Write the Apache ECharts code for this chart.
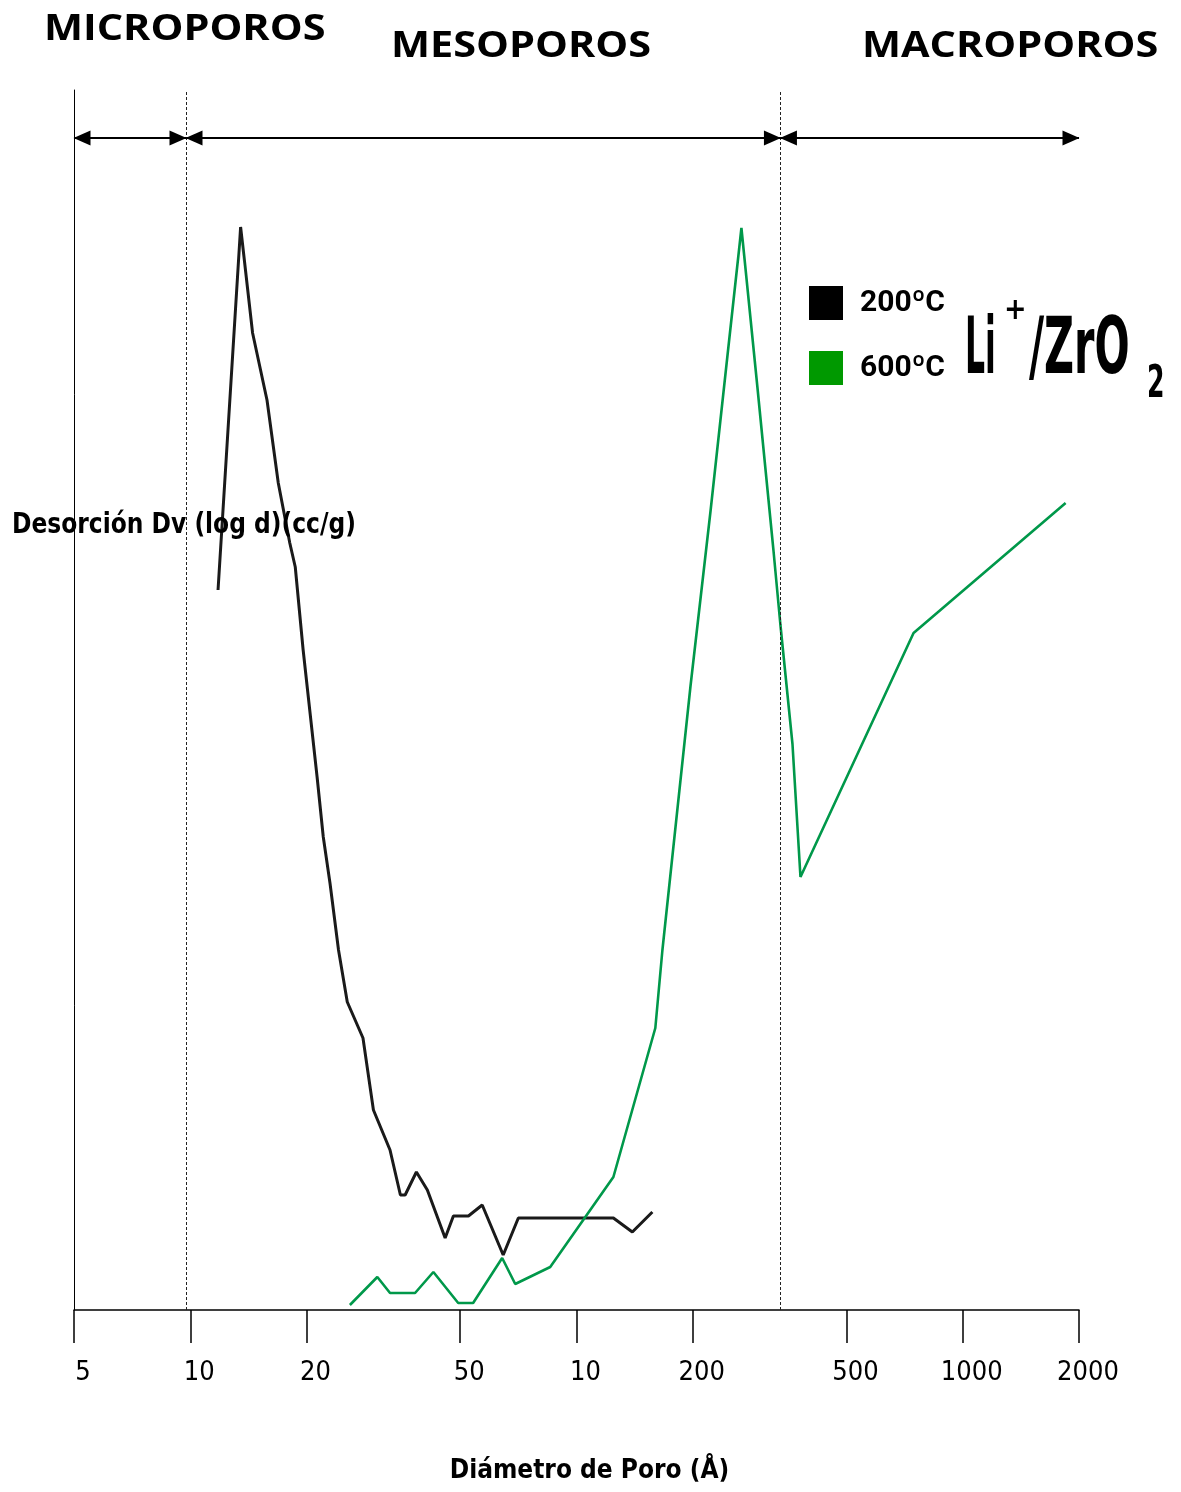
<!DOCTYPE html>
<html>
<head>
<meta charset="utf-8">
<script src="https://cdn.jsdelivr.net/npm/echarts@6/dist/echarts.min.js"></script>
<style>
html,body{margin:0;padding:0;background:#fff;}
#chart{width:1181px;height:1492px;}
</style>
</head>
<body>
<div id="chart"></div>
<script>
// Pore diameter (Å) and desorption Dv(log d) (cc/g)
const diam200 = [11.8, 13.5, 14.5, 15.8, 16.9, 18.1, 18.7, 19.6, 21.3, 22.1, 23.0, 24.2, 25.5, 28.0, 29.8, 32.9, 35.0, 36.0, 38.5, 41.1, 45.7, 48.0, 52.5, 57.0, 64.6, 70.7, 124.6, 139.5, 157.2];
const dv200 = [0.720, 1.083, 0.977, 0.910, 0.827, 0.767, 0.743, 0.660, 0.533, 0.473, 0.427, 0.360, 0.308, 0.272, 0.200, 0.160, 0.115, 0.115, 0.138, 0.120, 0.072, 0.094, 0.094, 0.105, 0.055, 0.092, 0.092, 0.078, 0.098];
const diam600 = [25.9, 30.5, 32.9, 38.2, 42.6, 49.4, 54.0, 64.2, 69.4, 85.5, 124.6, 160.0, 166.9, 197.2, 222.2, 245.9, 267.3, 294.0, 323.5, 337.3, 362.4, 380.1, 745.9, 1846.6];
const dv600 = [0.005, 0.033, 0.017, 0.017, 0.038, 0.007, 0.007, 0.052, 0.026, 0.043, 0.133, 0.282, 0.360, 0.623, 0.798, 0.954, 1.082, 0.923, 0.760, 0.685, 0.566, 0.433, 0.677, 0.807];
const seriesNames = ['200ºC', '600ºC'];
const tickValues = [5, 10, 20, 50, 100, 200, 500, 1000, 2000];
const tickLabels = ['5', '10', '20', '50', '10', '200', '500', '1000', '2000'];
const regionBounds = [5, 9.75, 337.3, 2000];   // micro / meso / macro limits (Å)
const regionNames = ['MICROPOROS', 'MESOPOROS', 'MACROPOROS'];
const arrowLevel = 1.172;

const COND = '"DejaVu Sans Condensed", "DejaVu Sans", sans-serif';

function labelFor(v) {
  let best = 0, bd = Infinity;
  tickValues.forEach((t, i) => { const d = Math.abs(Math.log(v) - Math.log(t)); if (d < bd) { bd = d; best = i; } });
  return bd < 0.01 ? tickLabels[best] : '';
}

const chart = echarts.init(document.getElementById('chart'), null, {renderer: 'canvas'});
const arrowLines = [];
for (let i = 0; i < regionBounds.length - 1; i++) {
  arrowLines.push([{coord: [regionBounds[i], arrowLevel]}, {coord: [regionBounds[i + 1], arrowLevel]}]);
}
const option = {
  backgroundColor: '#fff',
  animation: false,
  grid: {left: 74, right: 102, top: 90, bottom: 182, containLabel: false, outerBoundsMode: 'none'},
  xAxis: {
    type: 'log', logBase: 10, min: 5, max: 2000,
    name: 'Diámetro de Poro (Å)', nameLocation: 'middle', nameGap: 148,
    nameTextStyle: {fontFamily: COND, fontWeight: 'bold', fontSize: 26, color: '#000', padding: [0, 0, 0, 26]},
    axisLine: {show: true, lineStyle: {color: '#000', width: 1.5}},
    axisTick: {show: true, length: 33, lineStyle: {color: '#000', width: 1.5}, customValues: tickValues},
    axisLabel: {customValues: tickValues, formatter: v => labelFor(v), margin: 49,
      fontFamily: COND, fontSize: 27, color: '#000', padding: [0, 0, 0, 18]},
    splitLine: {show: false}, minorTick: {show: false}, minorSplitLine: {show: false}
  },
  yAxis: {
    type: 'value', min: 0, max: 1.22,
    axisLine: {show: true, lineStyle: {color: '#000', width: 1}},
    axisTick: {show: false}, axisLabel: {show: false}, splitLine: {show: false}
  },
  legend: {
    orient: 'vertical', left: 809, top: 286, padding: 0,
    itemWidth: 34, itemHeight: 34, itemGap: 31, icon: 'rect',
    textStyle: {fontFamily: 'Roboto', fontWeight: 'bold', fontSize: 30, color: '#000', lineHeight: 34, padding: [0, 0, 0, 12]},
    data: [
      {name: seriesNames[0], itemStyle: {color: '#000', borderWidth: 0}},
      {name: seriesNames[1], itemStyle: {color: '#009900', borderWidth: 0}}
    ]
  },
  series: [
    {
      name: seriesNames[0], type: 'line', showSymbol: false, symbol: 'none',
      lineStyle: {color: '#1a1a1a', width: 3}, itemStyle: {color: '#000'},
      data: diam200.map((d, i) => [d, dv200[i]]), z: 3
    },
    {
      name: seriesNames[1], type: 'line', showSymbol: false, symbol: 'none',
      lineStyle: {color: '#00984a', width: 2.6}, itemStyle: {color: '#009900'},
      data: diam600.map((d, i) => [d, dv600[i]]), z: 3
    },
    {
      name: 'limits', type: 'line', data: [], silent: true,
      markLine: {
        silent: true, symbol: ['none', 'none'], label: {show: false},
        lineStyle: {color: '#222', type: [3, 2], width: 1},
        data: [{xAxis: regionBounds[1]}, {xAxis: regionBounds[2]}]
      }
    },
    {
      name: 'arrows', type: 'line', data: [], silent: true,
      markLine: {
        silent: true, symbol: ['triangle', 'triangle'], symbolSize: [15, 17],
        symbolOffset: [[0, 8], [0, 8]], label: {show: false},
        lineStyle: {color: '#000', type: 'solid', width: 2.2},
        data: arrowLines
      }
    }
  ],
  graphic: [
    {type: 'text', x: 44, y: 30, scaleX: 1.15, style: {text: regionNames[0], font: 'bold 36px "Open Sans", sans-serif', fill: '#000', textAlign: 'left', textVerticalAlign: 'middle'}},
    {type: 'text', x: 391, y: 47, scaleX: 1.15, style: {text: regionNames[1], font: 'bold 36px "Open Sans", sans-serif', fill: '#000', textAlign: 'left', textVerticalAlign: 'middle'}},
    {type: 'text', x: 862, y: 47, scaleX: 1.15, style: {text: regionNames[2], font: 'bold 36px "Open Sans", sans-serif', fill: '#000', textAlign: 'left', textVerticalAlign: 'middle'}},
    {type: 'text', x: 12, y: 526, z: 10, scaleY: 1.1, style: {text: 'Desorción Dv (log d)(cc/g)', font: 'bold 26px ' + COND, fill: '#000', textAlign: 'left', textVerticalAlign: 'middle'}},
    {type: 'text', x: 965, y: 353, scaleX: 0.76, scaleY: 1.7, style: {text: 'Li', font: 'bold 46px ' + COND, fill: '#000', textAlign: 'left', textVerticalAlign: 'middle'}},
    {type: 'text', x: 1004, y: 311, style: {text: '+', font: 'bold 30px ' + COND, fill: '#000', textAlign: 'left', textVerticalAlign: 'middle'}},
    {type: 'text', x: 1029, y: 353, scaleY: 1.7, style: {text: '/ZrO', font: 'bold 46px ' + COND, fill: '#000', textAlign: 'left', textVerticalAlign: 'middle'}},
    {type: 'text', x: 1147, y: 385, scaleY: 1.6, style: {text: '2', font: 'bold 28px ' + COND, fill: '#000', textAlign: 'left', textVerticalAlign: 'middle'}}
  ]
};
chart.setOption(option);
</script>
</body>
</html>
